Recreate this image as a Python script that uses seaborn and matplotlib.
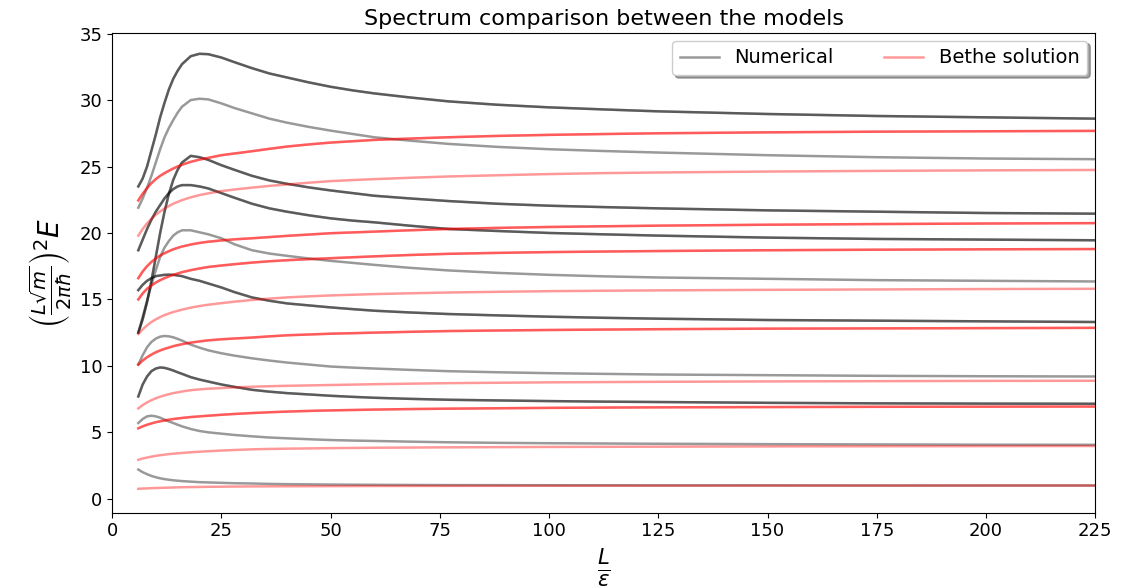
import numpy as np
import pandas as pd
import seaborn as sns
import matplotlib.pyplot as plt

plt.rcParams['font.family'] = ['DejaVu Sans']

# L/eps sample points
ratio = [6, 7, 8, 9, 10, 11, 12, 13, 14, 15, 16, 18, 20, 22, 25, 28, 32, 36, 40, 45, 50,
         55, 60, 68, 77, 88, 100, 112, 125, 150, 175, 200, 225]

# numerical spectrum, lowest level first
numerical = [
    [2.2, 2.0, 1.85, 1.72, 1.62, 1.54, 1.48, 1.43, 1.39, 1.36, 1.33, 1.29, 1.25, 1.23, 1.2, 1.17, 1.15,
     1.12, 1.1, 1.085, 1.07, 1.06, 1.05, 1.04, 1.03, 1.025, 1.02, 1.015, 1.01, 1.01, 1.0, 1.0, 1.0],
    [5.7, 6.0, 6.2, 6.25, 6.2, 6.1, 5.95, 5.82, 5.7, 5.57, 5.45, 5.25, 5.1, 5.0, 4.9, 4.8, 4.7,
     4.61, 4.55, 4.48, 4.42, 4.38, 4.35, 4.3, 4.25, 4.21, 4.18, 4.16, 4.14, 4.11, 4.09, 4.07, 4.06],
    [7.7, 8.6, 9.2, 9.6, 9.8, 9.88, 9.85, 9.76, 9.65, 9.52, 9.4, 9.15, 8.97, 8.82, 8.6, 8.42, 8.2,
     8.06, 7.95, 7.85, 7.75, 7.67, 7.6, 7.52, 7.45, 7.4, 7.35, 7.31, 7.28, 7.22, 7.18, 7.16, 7.15],
    [10.1, 10.8, 11.4, 11.8, 12.05, 12.2, 12.25, 12.22, 12.15, 12.03, 11.9, 11.6, 11.37, 11.17, 10.95, 10.77, 10.57,
     10.4, 10.25, 10.1, 9.95, 9.87, 9.8, 9.7, 9.6, 9.52, 9.45, 9.4, 9.35, 9.3, 9.25, 9.22, 9.2],
    [15.7, 16.1, 16.4, 16.6, 16.75, 16.8, 16.85, 16.86, 16.85, 16.8, 16.75, 16.55, 16.4, 16.2, 15.9, 15.55, 15.15,
     14.9, 14.7, 14.55, 14.4, 14.27, 14.15, 14.02, 13.9, 13.8, 13.7, 13.62, 13.55, 13.45, 13.4, 13.35, 13.3],
    [12.5, 13.7, 14.9, 16.1, 17.2, 18.2, 18.9, 19.4, 19.8, 20.05, 20.2, 20.2, 20.05, 19.9, 19.6, 19.15, 18.7,
     18.45, 18.28, 18.08, 17.9, 17.75, 17.6, 17.38, 17.18, 17.0, 16.85, 16.74, 16.65, 16.55, 16.45, 16.4, 16.35],
    [18.7, 19.5, 20.3, 21.0, 21.6, 22.1, 22.6, 23.0, 23.3, 23.5, 23.6, 23.6, 23.5, 23.35, 23.0, 22.65, 22.2,
     21.85, 21.6, 21.33, 21.1, 20.93, 20.8, 20.55, 20.3, 20.15, 20.0, 19.9, 19.8, 19.65, 19.55, 19.5, 19.45],
    [12.5, 13.5, 14.8, 16.4, 18.2, 20.0, 21.6, 22.95, 24.0, 24.75, 25.3, 25.8, 25.7, 25.5, 25.1, 24.75, 24.3,
     23.95, 23.7, 23.43, 23.2, 23.0, 22.8, 22.6, 22.4, 22.2, 22.05, 21.95, 21.85, 21.7, 21.6, 21.5, 21.45],
    [21.9, 22.6, 23.4, 24.3, 25.3, 26.3, 27.2, 27.9, 28.5, 29.05, 29.5, 30.0, 30.1, 30.05, 29.75, 29.4, 29.0,
     28.6, 28.3, 27.98, 27.7, 27.45, 27.2, 26.95, 26.7, 26.48, 26.3, 26.17, 26.05, 25.85, 25.7, 25.6, 25.55],
    [23.5, 24.1, 25.0, 26.2, 27.4, 28.7, 29.8, 30.8, 31.6, 32.2, 32.7, 33.3, 33.48, 33.45, 33.2, 32.85, 32.4,
     32.0, 31.7, 31.33, 31.0, 30.73, 30.5, 30.2, 29.9, 29.65, 29.45, 29.3, 29.15, 28.95, 28.8, 28.7, 28.6],
]

# Bethe ansatz spectrum, lowest level first
bethe = [
    [0.75, 0.77, 0.78, 0.8, 0.81, 0.82, 0.83, 0.84, 0.85, 0.86, 0.87, 0.88, 0.89, 0.9, 0.91, 0.92, 0.93,
     0.935, 0.94, 0.945, 0.95, 0.955, 0.96, 0.965, 0.97, 0.975, 0.98, 0.982, 0.985, 0.99, 0.99, 0.995, 0.995],
    [2.93, 3.03, 3.1, 3.17, 3.23, 3.28, 3.32, 3.36, 3.39, 3.42, 3.45, 3.5, 3.54, 3.58, 3.63, 3.67, 3.72,
     3.75, 3.77, 3.79, 3.81, 3.825, 3.84, 3.855, 3.87, 3.885, 3.9, 3.91, 3.92, 3.94, 3.95, 3.96, 3.97],
    [5.3, 5.45, 5.57, 5.67, 5.76, 5.83, 5.89, 5.95, 6.0, 6.04, 6.08, 6.15, 6.2, 6.25, 6.32, 6.38, 6.45,
     6.51, 6.56, 6.61, 6.65, 6.68, 6.71, 6.75, 6.78, 6.81, 6.84, 6.86, 6.88, 6.9, 6.92, 6.93, 6.94],
    [6.8, 7.05, 7.25, 7.42, 7.56, 7.68, 7.78, 7.87, 7.95, 8.01, 8.07, 8.17, 8.23, 8.28, 8.33, 8.38, 8.43,
     8.47, 8.5, 8.53, 8.56, 8.59, 8.62, 8.66, 8.7, 8.73, 8.76, 8.78, 8.8, 8.83, 8.85, 8.87, 8.88],
    [10.1, 10.4, 10.65, 10.85, 11.02, 11.16, 11.28, 11.38, 11.48, 11.56, 11.63, 11.75, 11.84, 11.92, 12.0, 12.06, 12.13,
     12.22, 12.3, 12.36, 12.42, 12.46, 12.5, 12.56, 12.62, 12.66, 12.7, 12.73, 12.76, 12.8, 12.82, 12.84, 12.86],
    [12.4, 12.75, 13.05, 13.3, 13.5, 13.67, 13.82, 13.94, 14.05, 14.14, 14.23, 14.38, 14.5, 14.6, 14.72, 14.83, 14.96,
     15.06, 15.15, 15.23, 15.3, 15.35, 15.4, 15.46, 15.52, 15.57, 15.62, 15.65, 15.68, 15.72, 15.75, 15.78, 15.8],
    [15.0, 15.45, 15.8, 16.05, 16.27, 16.45, 16.6, 16.73, 16.85, 16.95, 17.05, 17.2, 17.33, 17.44, 17.55, 17.65, 17.77,
     17.87, 17.95, 18.03, 18.1, 18.17, 18.24, 18.34, 18.43, 18.5, 18.56, 18.6, 18.64, 18.7, 18.74, 18.77, 18.79],
    [16.6, 17.1, 17.5, 17.82, 18.08, 18.3, 18.48, 18.63, 18.77, 18.88, 18.98, 19.13, 19.25, 19.34, 19.44, 19.52, 19.6,
     19.69, 19.78, 19.88, 19.98, 20.04, 20.1, 20.2, 20.3, 20.38, 20.45, 20.5, 20.55, 20.62, 20.67, 20.71, 20.74],
    [19.8, 20.3, 20.72, 21.07, 21.37, 21.62, 21.84, 22.03, 22.2, 22.34, 22.47, 22.68, 22.85, 22.98, 23.15, 23.27, 23.41,
     23.54, 23.65, 23.78, 23.9, 23.98, 24.05, 24.15, 24.25, 24.34, 24.43, 24.5, 24.55, 24.62, 24.67, 24.71, 24.74],
    [22.45, 22.95, 23.38, 23.75, 24.05, 24.3, 24.5, 24.68, 24.85, 25.0, 25.13, 25.35, 25.52, 25.65, 25.85, 25.98, 26.15,
     26.33, 26.5, 26.66, 26.8, 26.9, 27.0, 27.1, 27.2, 27.3, 27.38, 27.44, 27.5, 27.57, 27.62, 27.65, 27.68],
]

# degenerate levels are drawn twice (so they look darker)
degeneracy = [1, 1, 2, 1, 2, 1, 2, 2, 1, 2]

fig, ax = plt.subplots(figsize=(11.21, 5.88), dpi=100)
fig.subplots_adjust(left=0.1, right=0.977, top=0.944, bottom=0.128)

for model, levels, color in [("Numerical", numerical, "black"), ("Bethe solution", bethe, "red")]:
    first = True
    for lev, deg in zip(levels, degeneracy):
        for k in range(deg):
            sns.lineplot(x=ratio, y=lev, color=color, alpha=0.4, lw=1.8, ax=ax,
                         label=model if first else None, legend=False)
            first = False

ax.set_xlim(0, 225)
ax.set_ylim(-1.05, 35.05)
ax.set_xticks(np.arange(0, 226, 25))
ax.set_yticks(np.arange(0, 36, 5))
ax.tick_params(labelsize=13)
ax.set_title("Spectrum comparison between the models", fontsize=16)
ax.set_xlabel(r"$\frac{L}{\varepsilon}$", fontsize=22)
ax.set_ylabel(r"$\left(\frac{L\sqrt{m}}{2\pi\hbar}\right)^2E$", fontsize=20)
ax.legend(loc="upper right", ncol=2, fontsize=14, shadow=True, fancybox=True,
          borderaxespad=0.4, columnspacing=2.6)

plt.savefig("out.png", dpi=100)
